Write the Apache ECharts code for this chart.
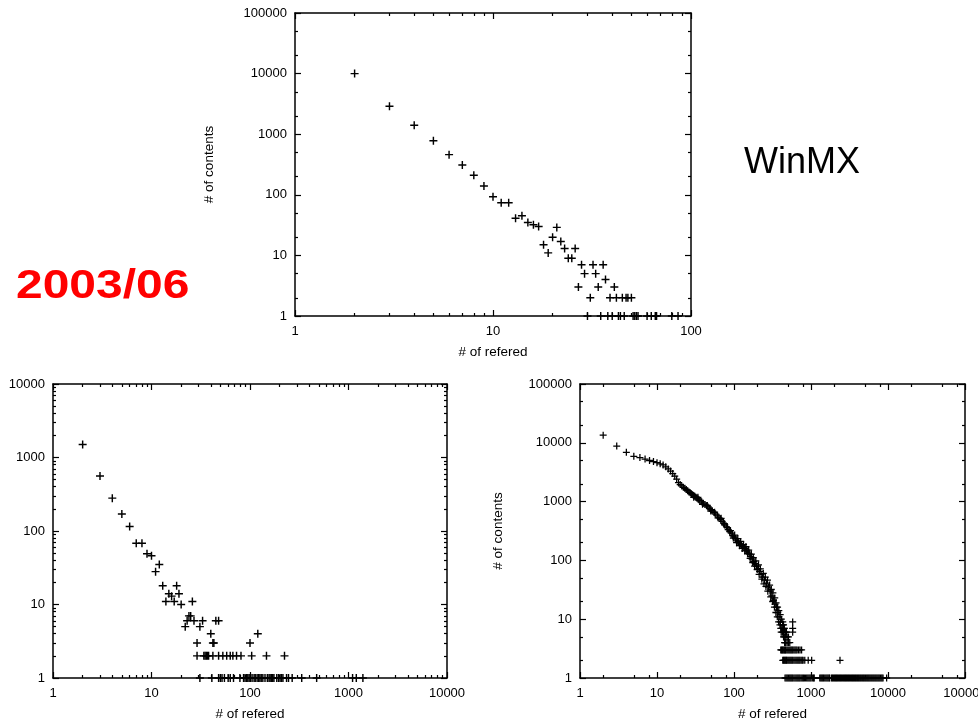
<!DOCTYPE html>
<html>
<head>
<meta charset="utf-8">
<script src="https://cdn.jsdelivr.net/npm/echarts@6/dist/echarts.min.js"></script>
<style>
  html, body { margin: 0; padding: 0; background: #fff; }
  #main { width: 978px; height: 718px; }
</style>
</head>
<body>
<div id="main"></div>
<script>
// ---- data: [# of refered, # of contents] ----
// top chart (WinMX)
var topPoints = [[2,10000],[3,2900],[4,1400],[5,780],[6,460],[7,310],[8,210],[9,140],[10,93],[11,74],[12,74],
  [13,41],[14,45],[15,35],[16,32],[17,30],[18,15],[19,11],[20,20],[21,29],[22,17],[23,13],[24,9],[25,9],[26,13],
  [27,3],[28,7],[29,5],[31,2],[32,7],[33,5],[34,3],[36,7],[37,4],[39,2],[41,3],[42,2],[45,2],[47,2],[48,2],[50,2]];
var topOnes = [30, 35, 38, 40, 43, 44, 46, 51, 52, 53, 54, 60, 63, 66, 67, 80, 86];

// bottom left chart
var leftPoints = [[2,1500],[3,560],[4,280],[5,170],[6,115],[7,68],[8,68],[9,49],[10,46],[11,28],[12,35],[13,18],
  [14,11],[15,14],[16,13],[17,11],[18,18],[19,14],[20,10],[22,5],[23,6],[24,7],[25,7],[26,11],[27,6],[29,3],[31,5],
  [33,6],[40,4],[42,3],[43,3],[45,6],[48,6],[100,3],[120,4]];
var leftTwos = [29, 34, 35, 36, 37, 38, 42, 48, 53, 58, 63, 67, 73, 81, 104, 147, 224];
var leftOnes = [31, 41, 48, 50, 52, 55, 60, 63, 68, 79, 86, 89, 92, 95, 98, 101, 105, 110, 113, 118, 122, 126, 130,
  135, 142, 150, 156, 160, 165, 170, 175, 187, 195, 202, 209, 216, 235, 246, 268, 335, 475, 1100, 1200, 1400];

// bottom right chart
var rightPoints = [[2,13500],[3,8800],[4,6900],[5,5900],[6,5600],[7,5300],[8,5000],[9,4800],[10,4600],[11,4400],
  [12,4200],[13,3900],[14,3600],[15,3300],[16,3000],[17,2700],[18,2400],[19,2100],[20,1950],[21,1850],[22,1750],
  [23,1680],[24,1600],[25,1530],[26,1460],[27,1420],[28,1360],[29,1310],[30,1270],[31,1230],[32,1190],[33,1150],
  [34,1110],[35,1070],[36,1040],[38,990],[40,940],[42,890],[44,850],[46,810],[48,770],[50,730],[52,700],[55,650],
  [58,610],[61,570],[64,530],[67,500],[70,460],[73,430],[76,400],[80,370],[84,335],[88,310],[92,290],[96,265],
  [100,250],[105,232],[110,215],[115,200],[120,190],[125,180],[130,172],[135,165],[140,158],[146,150],[152,138],
  [158,128],[165,116],[172,105],[180,96],[188,88],[196,80],[205,72],[215,65],[225,58],[235,52],[250,46],[265,41],
  [280,35],[295,30],[310,25],[325,21],[340,18],[355,16],[370,13],[385,11],[400,9],[418,7],[440,5],[460,4],
  [30,1180],[34,1180],[39,900],[45,860],[50,690],[56,660],[62,530],[68,520],[75,420],[82,360],[90,320],[98,240],
  [102,270],[108,200],[112,235],[118,178],[122,210],[128,160],[133,185],[138,145],[143,172],[150,130],[155,150],
  [162,108],[168,128],[175,92],[178,112],[185,80],[192,98],[200,70],[208,84],[212,58],[220,72],[230,48],[240,60],
  [245,40],[255,52],[260,36],[272,46],[275,30],[290,38],[300,24],[305,32],[318,20],[320,28],[335,16],[338,23],
  [350,13],[352,19],[365,11],[368,16],[380,9],[382,14],[395,8],[398,12],[410,6],[412,10],[425,6],[430,9],
  [445,7],[450,5],[470,6],[490,5],[430,8],[440,8],[405,7],[450,7],[440,6],[460,6],[480,6],[578,6],[578,7],[578,9],
  [470,5],[510,5],[455,4],[470,4],[490,4],[510,4],[530,4]];
var rightThrees = [405, 415, 425, 435, 445, 455, 465, 475, 490, 505, 520, 535, 550, 565, 580, 600, 620, 640, 660,
  690, 720, 755];
var rightTwos = [430, 440, 450, 460, 470, 480, 490, 505, 520, 535, 550, 565, 580, 600, 620, 640, 660, 680, 700, 720,
  745, 770, 790, 830, 920, 1020, 2380];
var rightOnes = [460, 475, 490, 505, 520, 535, 550, 565, 580, 600, 620, 640, 660, 680, 700, 720, 745, 770, 795, 820,
  850, 880, 910, 940, 970, 1000, 1040, 1080, 1100, 1300, 1340, 1380, 1420, 1460, 1510, 1560, 1610, 1660, 1710, 1750,
  1850, 1900, 1960, 2020, 2080, 2140, 2200, 2270, 2340, 2410, 2480, 2560, 2640, 2720, 2800, 2880, 2970, 3060, 3150,
  3250, 3350, 3450, 3550, 3660, 3770, 3880, 4000, 4120, 4240, 4370, 4500, 4640, 4780, 4920, 5070, 5220, 5380, 5540,
  5700, 5870, 6050, 6230, 6420, 6610, 6810, 7010, 7220, 7440, 7660, 7890, 8130, 8370, 8620, 9600];

// minor tick multipliers per decade
var minorAll = [2, 3, 4, 5, 6, 7, 8, 9];
var minorTwoFive = [2, 5];
var minorRight = [2, 5, 8];

var FONT = '"Liberation Sans", Arial, sans-serif';
var PLUS = 'path://M0,4.1H10V5.9H0Z M4.1,0H5.9V10H4.1Z';

function withY(xs, y) {
  return xs.map(function (x) { return [x, y]; });
}

function minorPos(max, mults) {
  var out = [];
  var dec = Math.round(Math.log10(max));
  for (var d = 0; d < dec; d++) {
    mults.forEach(function (m) { out.push(d + Math.log10(m)); });
  }
  return out;
}

var lineStyle = { color: '#000', width: 1.5 };

function xAxes(grid, max, mults, name) {
  var dec = Math.round(Math.log10(max));
  var base = {
    type: 'log', gridIndex: grid, min: 1, max: max, logBase: 10,
    axisLine: { show: true, onZero: false, lineStyle: lineStyle },
    axisTick: { show: true, inside: true, length: 6, lineStyle: { color: '#000', width: 1.2 } },
    splitLine: { show: false }
  };
  var minor = {
    type: 'value', gridIndex: grid, min: 0, max: dec,
    axisLine: { show: false, onZero: false },
    axisTick: { show: true, inside: true, length: 3, customValues: minorPos(max, mults),
      lineStyle: { color: '#000', width: 1.2 } },
    axisLabel: { show: false },
    splitLine: { show: false }
  };
  return [
    Object.assign({}, base, {
      position: 'bottom',
      axisLabel: { margin: 9, color: '#000', fontSize: 13, fontFamily: FONT,
        formatter: function (v) { return String(Math.round(v)); } },
      name: name, nameLocation: 'middle', nameGap: 29,
      nameTextStyle: { color: '#000', fontSize: 13.5, fontFamily: FONT }
    }),
    Object.assign({}, base, { position: 'top', axisLabel: { show: false } }),
    Object.assign({}, minor, { position: 'bottom' }),
    Object.assign({}, minor, { position: 'top' })
  ];
}

function yAxes(grid, max, mults, name, gap) {
  var dec = Math.round(Math.log10(max));
  var base = {
    type: 'log', gridIndex: grid, min: 1, max: max, logBase: 10,
    axisLine: { show: true, onZero: false, lineStyle: lineStyle },
    axisTick: { show: true, inside: true, length: 6, lineStyle: { color: '#000', width: 1.2 } },
    splitLine: { show: false }
  };
  var minor = {
    type: 'value', gridIndex: grid, min: 0, max: dec,
    axisLine: { show: false, onZero: false },
    axisTick: { show: true, inside: true, length: 3, customValues: minorPos(max, mults),
      lineStyle: { color: '#000', width: 1.2 } },
    axisLabel: { show: false },
    splitLine: { show: false }
  };
  return [
    Object.assign({}, base, {
      position: 'left',
      axisLabel: { margin: 8, color: '#000', fontSize: 13, fontFamily: FONT,
        formatter: function (v) { return String(Math.round(v)); } },
      name: name, nameLocation: 'middle', nameGap: gap, nameRotate: 90,
      nameTextStyle: { color: '#000', fontSize: 13.5, fontFamily: FONT }
    }),
    Object.assign({}, base, { position: 'right', axisLabel: { show: false } }),
    Object.assign({}, minor, { position: 'left' }),
    Object.assign({}, minor, { position: 'right' })
  ];
}

function plusSeries(axisIdx, data, size) {
  return {
    type: 'scatter', xAxisIndex: axisIdx, yAxisIndex: axisIdx,
    symbol: PLUS, symbolSize: size, clip: false, silent: true,
    itemStyle: { color: '#000', opacity: 1 },
    data: data
  };
}

var chart = echarts.init(document.getElementById('main'), null, { renderer: 'canvas' });

var option = {
  backgroundColor: '#fff',
  animation: false,
  grid: [
    { left: 295, top: 13, width: 396, height: 303, outerBoundsMode: 'none', containLabel: false },
    { left: 53, top: 384, width: 394, height: 294, outerBoundsMode: 'none', containLabel: false },
    { left: 580, top: 384, width: 385, height: 294, outerBoundsMode: 'none', containLabel: false }
  ],
  xAxis: [].concat(
    xAxes(0, 100, minorAll, '# of refered'),
    xAxes(1, 10000, minorAll, '# of refered'),
    xAxes(2, 100000, minorRight, '# of refered')
  ),
  yAxis: [].concat(
    yAxes(0, 100000, minorTwoFive, '# of contents', 79),
    yAxes(1, 10000, minorAll, '', 60),
    yAxes(2, 100000, minorTwoFive, '# of contents', 75)
  ),
  graphic: [
    { type: 'text', x: 744, y: 163,
      style: { text: 'WinMX', font: '36px ' + FONT, fill: '#000', verticalAlign: 'middle' } },
    { type: 'text', x: 16, y: 287, scaleX: 1.17,
      style: { text: '2003/06', font: 'bold 41px ' + FONT, fill: '#ff0000', verticalAlign: 'middle' } }
  ],
  series: [
    plusSeries(0, topPoints.concat(withY(topOnes, 1)), 8),
    plusSeries(4, leftPoints.concat(withY(leftTwos, 2), withY(leftOnes, 1)), 8),
    plusSeries(8, rightPoints.concat(withY(rightThrees, 3), withY(rightTwos, 2), withY(rightOnes, 1)), 7)
  ]
};

chart.setOption(option);
window.addEventListener('resize', function () { chart.resize(); });
</script>
</body>
</html>
